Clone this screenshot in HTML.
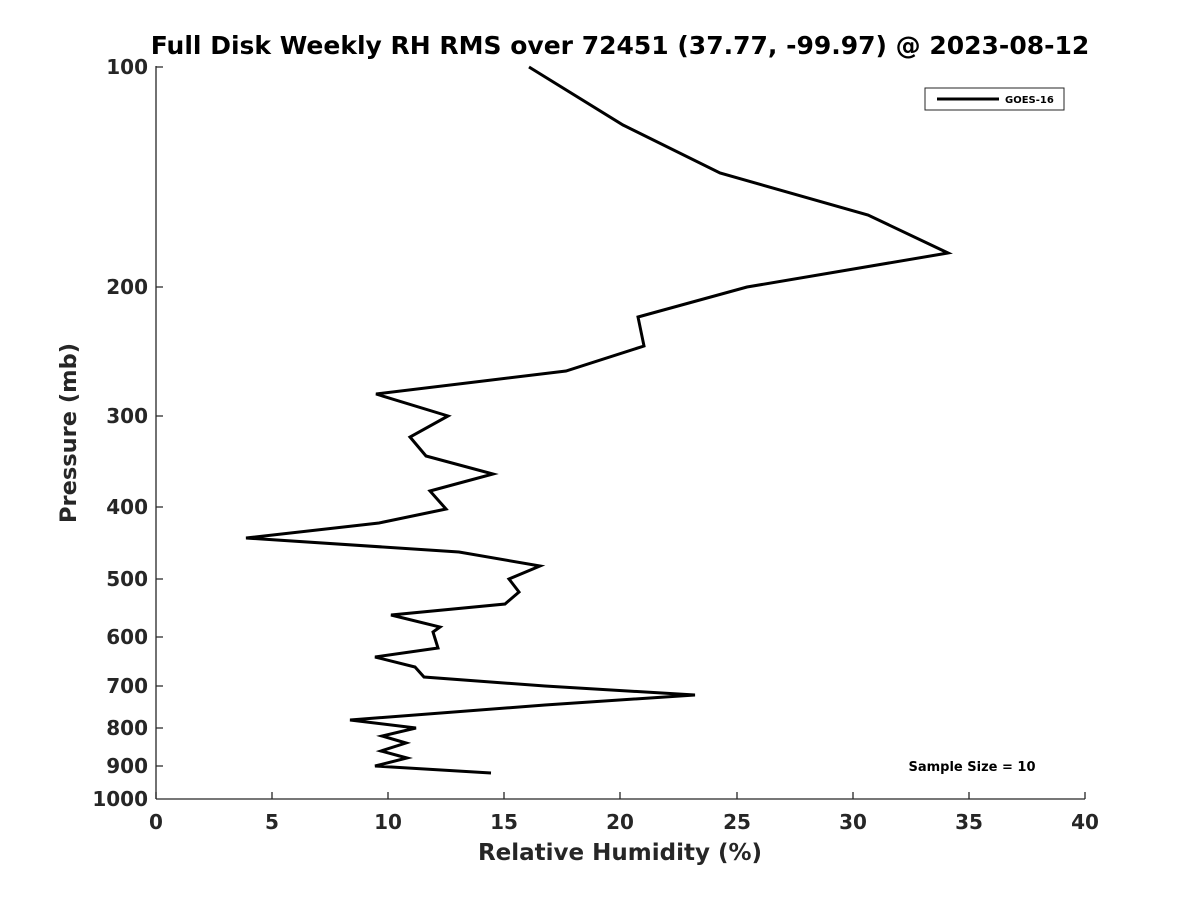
<!DOCTYPE html>
<html><head><meta charset="utf-8"><style>body{margin:0;background:#fff}svg{display:block}</style></head>
<body>
<svg width="1200" height="900" xmlns="http://www.w3.org/2000/svg" font-family="'DejaVu Sans', 'Liberation Sans', sans-serif" font-weight="bold" fill="#262626">
<rect width="1200" height="900" fill="#fff"/>
<text x="620" y="54" font-size="25" text-anchor="middle" fill="#000">Full Disk Weekly RH RMS over 72451 (37.77, -99.97) @ 2023-08-12</text>
<g stroke="#262626" stroke-width="1.3" fill="none">
<line x1="156" y1="66" x2="156" y2="799"/>
<line x1="156" y1="799" x2="1085" y2="799"/>
<path d="M156 67h7M156 287h7M156 416h7M156 507h7M156 579h7M156 637h7M156 686h7M156 728h7M156 766h7"/>
<path d="M156 799v-7M272 799v-7M388 799v-7M504 799v-7M620 799v-7M737 799v-7M853 799v-7M969 799v-7M1085 799v-7"/>
</g>
<g font-size="20" text-anchor="end">
<text x="148" y="74">100</text><text x="148" y="294">200</text><text x="148" y="423">300</text><text x="148" y="514">400</text><text x="148" y="586">500</text><text x="148" y="644">600</text><text x="148" y="693">700</text><text x="148" y="735">800</text><text x="148" y="773">900</text><text x="148" y="806">1000</text>
</g>
<g font-size="20" text-anchor="middle">
<text x="156" y="829">0</text><text x="272" y="829">5</text><text x="388" y="829">10</text><text x="504" y="829">15</text><text x="620" y="829">20</text><text x="737" y="829">25</text><text x="853" y="829">30</text><text x="969" y="829">35</text><text x="1085" y="829">40</text>
</g>
<text x="620" y="860" font-size="23" text-anchor="middle">Relative Humidity (%)</text>
<text transform="translate(76,433) rotate(-90)" font-size="22.5" text-anchor="middle">Pressure (mb)</text>
<polyline fill="none" stroke="#000" stroke-width="3" stroke-linejoin="miter" points="529,67 623,125 720,173 868,215 948,253 747,287 638,317 644,346 566,371 376,394 448,416 410,437 426,456 493,474 430,491 446,509 379,523 246,538 459,552 540,566 509,579 519,592 505,604 391,615 440,627 433,632 438,648 375,657 415,667 424,677 545,686 695,695 545,705 350,720 416,728 382,736 406,743 381,751 407,758 375,766 491,773"/>
<rect x="925" y="88" width="139" height="22" fill="#fff" stroke="#262626" stroke-width="1"/>
<line x1="937" y1="99" x2="999" y2="99" stroke="#000" stroke-width="3"/>
<text x="1005" y="103" font-size="10" fill="#000">GOES-16</text>
<text x="972" y="771" font-size="13" text-anchor="middle" fill="#000">Sample Size = 10</text>
</svg>
</body></html>
